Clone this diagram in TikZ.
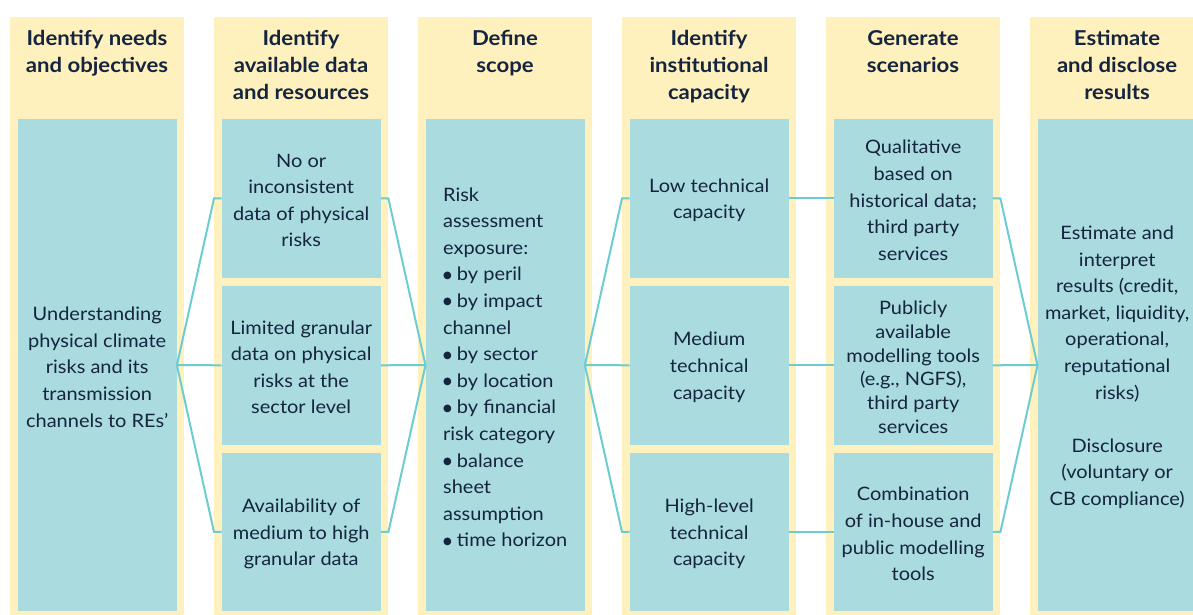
\documentclass[tikz,border=0pt]{standalone}
\usepackage{fontspec}
\setmainfont{Lato}[FakeStretch=1.08]
\newfontfamily\bulfont{DejaVu Sans}
\newcommand\bul{\raisebox{2.6pt}{\bulfont\fontsize{10pt}{10pt}\selectfont ●}}
\usetikzlibrary{calc}
\definecolor{ycol}{HTML}{FFF1BD}
\definecolor{bcol}{HTML}{A9DBDF}
\definecolor{lcol}{HTML}{6CCCD1}
\definecolor{tcol}{HTML}{15243F}
\tikzset{
  colbg/.style={fill=ycol, draw=none, anchor=north west, inner sep=0pt, minimum width=174pt, minimum height=605pt},
  bbox/.style={fill=bcol, draw=none, anchor=north west, inner sep=0pt, minimum width=159pt},
  btext/.style={text=tcol, align=center, inner sep=0pt, font=\fontsize{18.5pt}{26.6pt}\selectfont},
  htext/.style={text=tcol, align=center, inner sep=0pt, anchor=north, font=\bfseries\fontsize{20.5pt}{27pt}\selectfont},
  conn/.style={draw=lcol, line width=2pt}
}
\begin{document}
\begin{tikzpicture}[x=1pt,y=-1pt]
\useasboundingbox (0,0) rectangle (1193,614);
\clip (0,0) rectangle (1193,614);
\fill[white] (0,0) rectangle (1193,614);
% columns
\node[colbg] (c1) at (10,17) {};
\node[colbg] (c2) at (214,17) {};
\node[colbg] (c3) at (418,17) {};
\node[colbg] (c4) at (622,17) {};
\node[colbg] (c5) at (826,17) {};
\node[colbg] (c6) at (1030,17) {};
% headers
\node[htext] (h1) at (97,30) {Identify needs\\and objectives};
\node[htext] (h2) at (301,30) {Identify\\available data\\and resources};
\node[htext] (h3) at (505,30) {Define\\scope};
\node[htext] (h4) at (709,30) {Identify\\institutional\\capacity};
\node[htext] (h5) at (913,30) {Generate\\scenarios};
\node[htext] (h6) at (1117,30) {Estimate\\and disclose\\results};
% blue boxes
\node[bbox, minimum height=492pt] (b1) at (17.5,119) {};
\node[bbox, minimum height=158.5pt] (b2a) at (221.5,119) {};
\node[bbox, minimum height=158.5pt] (b2b) at (221.5,285.8) {};
\node[bbox, minimum height=158.5pt] (b2c) at (221.5,452.5) {};
\node[bbox, minimum height=492pt] (b3) at (425.5,119) {};
\node[bbox, minimum height=158.5pt] (b4a) at (629.5,119) {};
\node[bbox, minimum height=158.5pt] (b4b) at (629.5,285.8) {};
\node[bbox, minimum height=158.5pt] (b4c) at (629.5,452.5) {};
\node[bbox, minimum height=158.5pt] (b5a) at (833.5,119) {};
\node[bbox, minimum height=158.5pt] (b5b) at (833.5,285.8) {};
\node[bbox, minimum height=158.5pt] (b5c) at (833.5,452.5) {};
\node[bbox, minimum height=492pt] (b6) at (1037.5,119) {};
% texts
\node[btext] (t1) at ([yshift=-2pt]b1) {Understanding\\physical climate\\risks and its\\transmission\\channels to REs’};
\node[btext] (t2a) at ([yshift=-2pt]b2a) {No or\\inconsistent\\data of physical\\risks};
\node[btext] (t2b) at ([yshift=-2pt]b2b) {Limited granular\\data on physical\\risks at the\\sector level};
\node[btext] (t2c) at ([yshift=-2pt]b2c) {Availability of\\medium to high\\granular data};
\node[btext, align=left] (t3) at ([yshift=-2pt]b3) {Risk\\assessment\\exposure:\\\bul\ by peril\\\bul\ by impact\\channel\\\bul\ by sector\\\bul\ by location\\\bul\ by financial\\risk category\\\bul\ balance\\sheet\\assumption\\\bul\ time horizon};
\node[btext] (t4a) at ([yshift=-2pt]b4a) {Low technical\\capacity};
\node[btext] (t4b) at ([yshift=-2pt]b4b) {Medium\\technical\\capacity};
\node[btext] (t4c) at ([yshift=-2pt]b4c) {High-level\\technical\\capacity};
\node[btext] (t5a) at ([yshift=-2pt]b5a) {Qualitative\\based on\\historical data;\\third party\\services};
\node[btext, font=\fontsize{18.5pt}{23.8pt}\selectfont] (t5b) at ([yshift=-2pt]b5b) {Publicly\\available\\modelling tools\\(e.g., NGFS),\\third party\\services};
\node[btext] (t5c) at ([yshift=-2pt]b5c) {Combination\\of in-house and\\public modelling\\tools};
\node[btext] (t6) at ([yshift=-2pt]b6) {Estimate and\\interpret\\results (credit,\\market, liquidity,\\operational,\\reputational\\risks)\\[26.6pt]Disclosure\\(voluntary or\\CB compliance)};
% connectors
\draw[conn] (b1.east) -- (c2.west |- b2a.west) -- (b2a.west);
\draw[conn] (b1.east) -- (b2b.west);
\draw[conn] (b1.east) -- (c2.west |- b2c.west) -- (b2c.west);
\draw[conn] (b2a.east) -- (c2.east |- b2a.east) -- (b3.west);
\draw[conn] (b2b.east) -- (b3.west);
\draw[conn] (b2c.east) -- (c2.east |- b2c.east) -- (b3.west);
\draw[conn] (b3.east) -- (c4.west |- b4a.west) -- (b4a.west);
\draw[conn] (b3.east) -- (b4b.west);
\draw[conn] (b3.east) -- (c4.west |- b4c.west) -- (b4c.west);
\draw[conn] (b4a.east) -- (b5a.west);
\draw[conn] (b4b.east) -- (b5b.west);
\draw[conn] (b4c.east) -- (b5c.west);
\draw[conn] (b5a.east) -- (c5.east |- b5a.east) -- (b6.west);
\draw[conn] (b5b.east) -- (b6.west);
\draw[conn] (b5c.east) -- (c5.east |- b5c.east) -- (b6.west);
\end{tikzpicture}
\end{document}
